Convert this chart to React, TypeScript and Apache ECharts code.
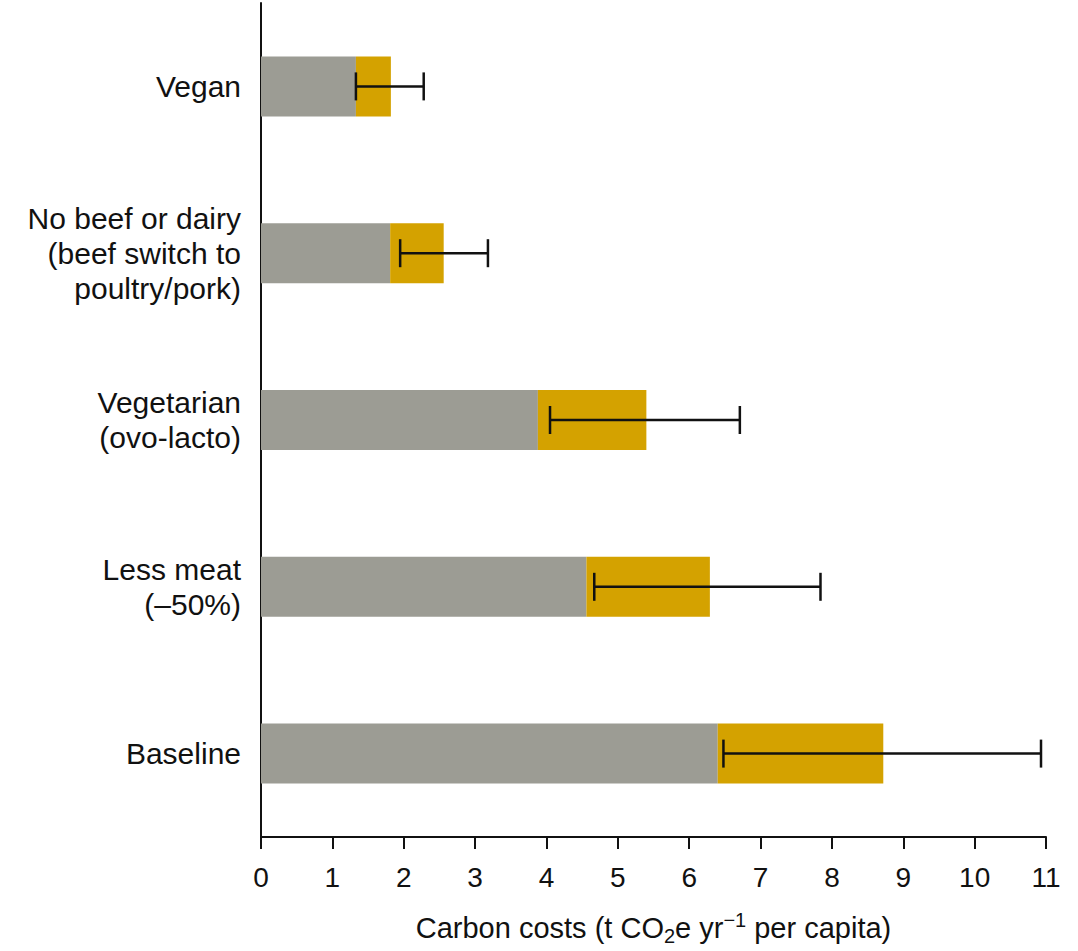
import React, { useEffect, useRef } from "react";
import * as echarts from "echarts";

const categories = [
  "Vegan",
  "No beef or dairy\n(beef switch to\npoultry/pork)",
  "Vegetarian\n(ovo-lacto)",
  "Less meat\n(–50%)",
  "Baseline",
];
const grayValues = [1.33, 1.81, 3.88, 4.56, 6.4];
const goldValues = [0.49, 0.75, 1.52, 1.73, 2.32];
const errLow = [1.33, 1.95, 4.05, 4.67, 6.48];
const errHigh = [2.28, 3.18, 6.71, 7.84, 10.93];
const xTicks = [0, 1, 2, 3, 4, 5, 6, 7, 8, 9, 10, 11];

const FONT = "'Liberation Sans', Arial, Helvetica, sans-serif";
const TEXT = "#111111";

export default function App() {
  const ref = useRef<HTMLDivElement>(null);
  useEffect(() => {
    if (!ref.current) return;
    const chart = echarts.init(ref.current, undefined, { renderer: "svg" });
    const errData = categories.map((_, i) => [i, errLow[i], errHigh[i]]);
    chart.setOption({
      animation: false,
      backgroundColor: "#ffffff",
      textStyle: { fontFamily: FONT },
      grid: { left: 261, right: 32, top: 3, bottom: 97, containLabel: false },
      xAxis: {
        type: "value",
        min: xTicks[0],
        max: xTicks[xTicks.length - 1],
        interval: 1,
        splitLine: { show: false },
        axisLine: { show: true, lineStyle: { color: TEXT, width: 2 } },
        axisTick: { show: true, length: 12, lineStyle: { color: TEXT, width: 2 } },
        axisLabel: { color: TEXT, fontSize: 28, fontFamily: FONT, margin: 26 },
        name: "Carbon costs (t CO{sub|2}e yr{sup|−1} per capita)",
        nameLocation: "middle",
        nameGap: 73,
        nameTextStyle: {
          color: TEXT,
          fontSize: 29,
          fontFamily: FONT,
          lineHeight: 36,
          rich: {
            sub: { fontSize: 20, fontFamily: FONT, color: TEXT, verticalAlign: "bottom", lineHeight: 22 },
            sup: { fontSize: 20, fontFamily: FONT, color: TEXT, verticalAlign: "top", lineHeight: 22 },
          },
        },
      },
      yAxis: {
        type: "category",
        data: categories,
        inverse: true,
        axisLine: { show: true, lineStyle: { color: TEXT, width: 2 } },
        axisTick: { show: false },
        axisLabel: {
          color: TEXT,
          fontSize: 30,
          fontFamily: FONT,
          lineHeight: 35,
          margin: 20,
          align: "right",
        },
        splitLine: { show: false },
      },
      series: [
        {
          type: "bar",
          stack: "total",
          data: grayValues,
          barWidth: 60,
          itemStyle: { color: "#9c9c94" },
          z: 2,
        },
        {
          type: "bar",
          stack: "total",
          data: goldValues,
          barWidth: 60,
          itemStyle: { color: "#d4a200" },
          z: 2,
        },
        {
          type: "custom",
          data: errData,
          z: 5,
          renderItem: (params: any, api: any) => {
            const cat = api.value(0);
            const lo = api.coord([api.value(1), cat]);
            const hi = api.coord([api.value(2), cat]);
            const h = 14;
            const style = { stroke: "#111111", lineWidth: 2.5 };
            return {
              type: "group",
              children: [
                { type: "line", shape: { x1: lo[0], y1: lo[1], x2: hi[0], y2: hi[1] }, style },
                { type: "line", shape: { x1: lo[0], y1: lo[1] - h, x2: lo[0], y2: lo[1] + h }, style },
                { type: "line", shape: { x1: hi[0], y1: hi[1] - h, x2: hi[0], y2: hi[1] + h }, style },
              ],
            };
          },
          encode: { x: [1, 2], y: 0 },
        },
      ],
    });
    return () => chart.dispose();
  }, []);
  return (
    <div
      ref={ref}
      style={{ position: "fixed", left: 0, top: 0, width: 1078, height: 951, background: "#fff" }}
    />
  );
}
